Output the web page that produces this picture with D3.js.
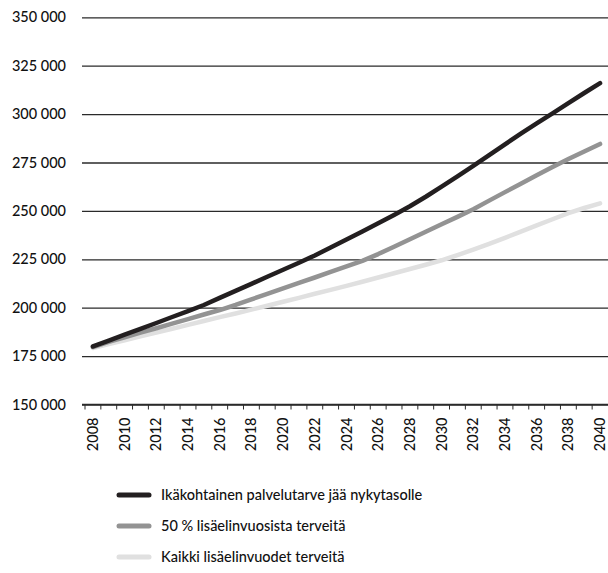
<!DOCTYPE html>
<html>
<head>
<meta charset="utf-8">
<script src="https://cdnjs.cloudflare.com/ajax/libs/d3/7.8.5/d3.min.js"></script>
<style>
  html, body { margin: 0; padding: 0; background: #fff; }
  svg { display: block; }
  text { font-family: Lato, "Open Sans", sans-serif; fill: #111; }
</style>
</head>
<body>
<svg id="chart" width="608" height="573"></svg>
<script>
// Years on the horizontal axis
const years = d3.range(2008, 2041);

// Forecast series (persons), one value per year 2008–2040
const seriesCurrent = [
  180000, 183000, 186100, 189100, 192100, 195200, 198200, 201400, 205100, 208700,
  212300, 216000, 219600, 223200, 227000, 231100, 235200, 239400, 243600, 247900,
  252400, 257300, 262500, 267800, 273200, 278800, 284400, 289900, 295200, 300400,
  305700, 310900, 316000
];
const seriesHalf = [
  179700, 182400, 184700, 187100, 189400, 191800, 194100, 196500, 198800, 201400,
  204300, 207100, 210000, 212800, 215600, 218500, 221300, 224200, 227700, 231500,
  235400, 239200, 243100, 246900, 250900, 255300, 259700, 264000, 268400, 272700,
  276800, 280700, 284600
];
const seriesAll = [
  179200, 181200, 183200, 185200, 187100, 189100, 191100, 193100, 195100, 197000,
  199000, 201000, 203100, 205100, 207200, 209200, 211300, 213400, 215600, 217800,
  220000, 222200, 224500, 227200, 230000, 233000, 236100, 239300, 242500, 245700,
  248800, 251500, 253900
];

const seriesNames = [
  "Ikäkohtainen palvelutarve jää nykytasolle",
  "50 % lisäelinvuosista terveitä",
  "Kaikki lisäelinvuodet terveitä"
];
const seriesColors = ["#231f20", "#939393", "#e0e0e0"];

const yTicks = [150000, 175000, 200000, 225000, 250000, 275000, 300000, 325000, 350000];
const labelYears = years.filter(y => (y - 2008) % 2 === 0);

const svg = d3.select("#chart");

const x = d3.scaleBand().domain(years).range([85, 608]);
const y = d3.scaleLinear().domain([150000, 350000]).range([404.5, 17.3]);

const fmt = v => d3.format(",")(v).replace(/,/g, " ");

// Horizontal gridlines with value labels
const yAxis = d3.axisLeft(y)
  .tickValues(yTicks)
  .tickSize(-(608 - 82))
  .tickPadding(16)
  .tickFormat(fmt);

const gy = svg.append("g").attr("transform", "translate(82,0)").call(yAxis);
gy.select(".domain").remove();
gy.selectAll(".tick line").attr("stroke", "#2a2a2a").attr("stroke-width", 1.3);
gy.selectAll(".tick text")
  .attr("x", -16)
  .style("font-size", "14.5px")
  .style("font-weight", "500")
  .attr("fill", "#111");

// Category axis along the 150 000 line: ticks at year boundaries
const gx = svg.append("g").attr("transform", `translate(0,${y(150000)})`);
gx.append("line")
  .attr("x1", 82).attr("x2", 608)
  .attr("stroke", "#2a2a2a").attr("stroke-width", 1.3);
gx.selectAll("line.tk")
  .data(years)
  .join("line")
  .attr("class", "tk")
  .attr("x1", d => x(d)).attr("x2", d => x(d))
  .attr("y1", 0).attr("y2", 5)
  .attr("stroke", "#2a2a2a").attr("stroke-width", 1);
gx.selectAll("text.yl")
  .data(labelYears)
  .join("text")
  .attr("class", "yl")
  .attr("transform", d => `translate(${x(d) + x.bandwidth() / 2 + 5},13) rotate(-90)`)
  .attr("text-anchor", "end")
  .style("font-size", "14.5px")
  .style("font-weight", "500")
  .text(d => d);

// Series lines
const line = d3.line()
  .x((d, i) => x(years[i]) + x.bandwidth() / 2)
  .y(d => y(d));

const allSeries = [seriesCurrent, seriesHalf, seriesAll];
svg.append("g")
  .selectAll("path")
  .data(allSeries.map((s, i) => ({ s, i })).reverse())
  .join("path")
  .attr("d", d => line(d.s))
  .attr("fill", "none")
  .attr("stroke", d => seriesColors[d.i])
  .attr("stroke-width", 4.5)
  .attr("stroke-linecap", "round")
  .attr("stroke-linejoin", "round");

// Legend
const legend = svg.append("g");
const lg = legend.selectAll("g")
  .data(seriesNames)
  .join("g")
  .attr("transform", (d, i) => `translate(119,${495 + i * 31})`);
lg.append("line")
  .attr("x1", 0).attr("x2", 30)
  .attr("stroke", (d, i) => seriesColors[i])
  .attr("stroke-width", 5)
  .attr("stroke-linecap", "round");
lg.append("text")
  .attr("x", 42)
  .attr("dy", "0.35em")
  .style("font-size", "14.5px")
  .style("font-weight", "500")
  .text(d => d);
</script>
</body>
</html>
